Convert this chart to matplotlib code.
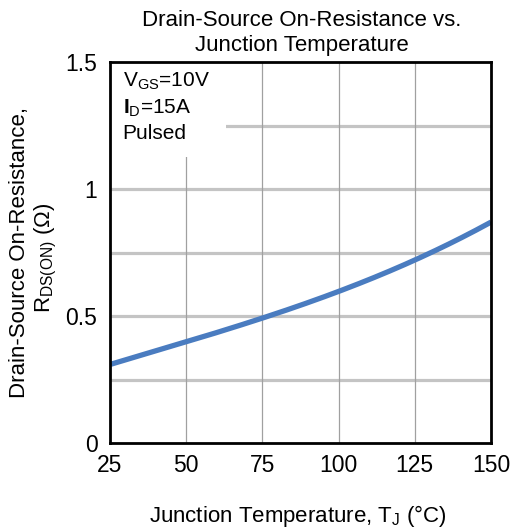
import matplotlib
matplotlib.use("Agg")
import matplotlib.pyplot as plt
from matplotlib.patches import Rectangle
import numpy as np

plt.rcParams['font.family'] = ['Liberation Sans', 'DejaVu Sans']
plt.rcParams['mathtext.fontset'] = 'custom'
plt.rcParams['mathtext.rm'] = 'Liberation Sans'
plt.rcParams['mathtext.it'] = 'Liberation Sans:italic'
plt.rcParams['mathtext.bf'] = 'Liberation Sans:bold'

temps = [25, 50, 75, 100, 125, 150]
rdson = [0.31, 0.395, 0.496, 0.595, 0.72, 0.87]
x_ticks = [25, 50, 75, 100, 125, 150]
y_ticks = [0, 0.5, 1, 1.5]
y_tick_labels = ["0", "0.5", "1", "1.5"]

fig = plt.figure(figsize=(5.12, 5.31), dpi=100)
ax = fig.add_axes([110/512, 1-443/531, 381/512, 381/531])

xs = np.linspace(25, 150, 200)
coef = np.polyfit(temps, rdson, 3)
ax.plot(xs, np.polyval(coef, xs), color='#4a7cc0', lw=3.8, solid_capstyle='butt', zorder=3)

ax.set_xlim(25, 150)
ax.set_ylim(0, 1.5)
ax.set_xticks(x_ticks)
ax.set_yticks(y_ticks)
ax.set_yticklabels(y_tick_labels)
ax.tick_params(axis='both', which='both', length=0, labelsize=16.5)
ax.tick_params(axis='y', pad=9)
ax.tick_params(axis='x', pad=8)

for v in [0.25, 0.5, 0.75, 1.0, 1.25]:
    ax.axhline(v, color='#c4c4c4', lw=2.3, zorder=1)
for t in [50, 75, 100, 125]:
    ax.axvline(t, color='#a0a0a0', lw=0.9, zorder=1)

for s in ax.spines.values():
    s.set_linewidth(2)
    s.set_zorder(5)

# white annotation background
ax.add_patch(Rectangle((0, 0.75), 0.305, 0.25, transform=ax.transAxes,
                       facecolor='white', edgecolor='none', zorder=2))
ax.text(0.033, 0.978,
        "V$_{\\mathrm{GS}}$=10V\n$\\mathbf{I}$$_{\\mathrm{D}}$=15A\nPulsed",
        transform=ax.transAxes, va='top', ha='left', fontsize=15, linespacing=1.35,
        zorder=4)

fig.text(302/512, 1-20/531, "Drain-Source On-Resistance vs.", ha='center', va='center', fontsize=16)
fig.text(302/512, 1-46/531, "Junction Temperature", ha='center', va='center', fontsize=16)

fig.text(298/512, 1-516/531, "Junction Temperature, T$_{\\mathrm{J}}$ (°C)", ha='center', va='center', fontsize=16)
fig.text(20/512, 1-252/531, "Drain-Source On-Resistance,", rotation=90, ha='center', va='center', fontsize=16)
fig.text(46/512, 1-258/531, "R$_{\\mathrm{DS(ON)}}$ (Ω)", rotation=90, ha='center', va='center', fontsize=16)

fig.savefig("out.png", dpi=100)
